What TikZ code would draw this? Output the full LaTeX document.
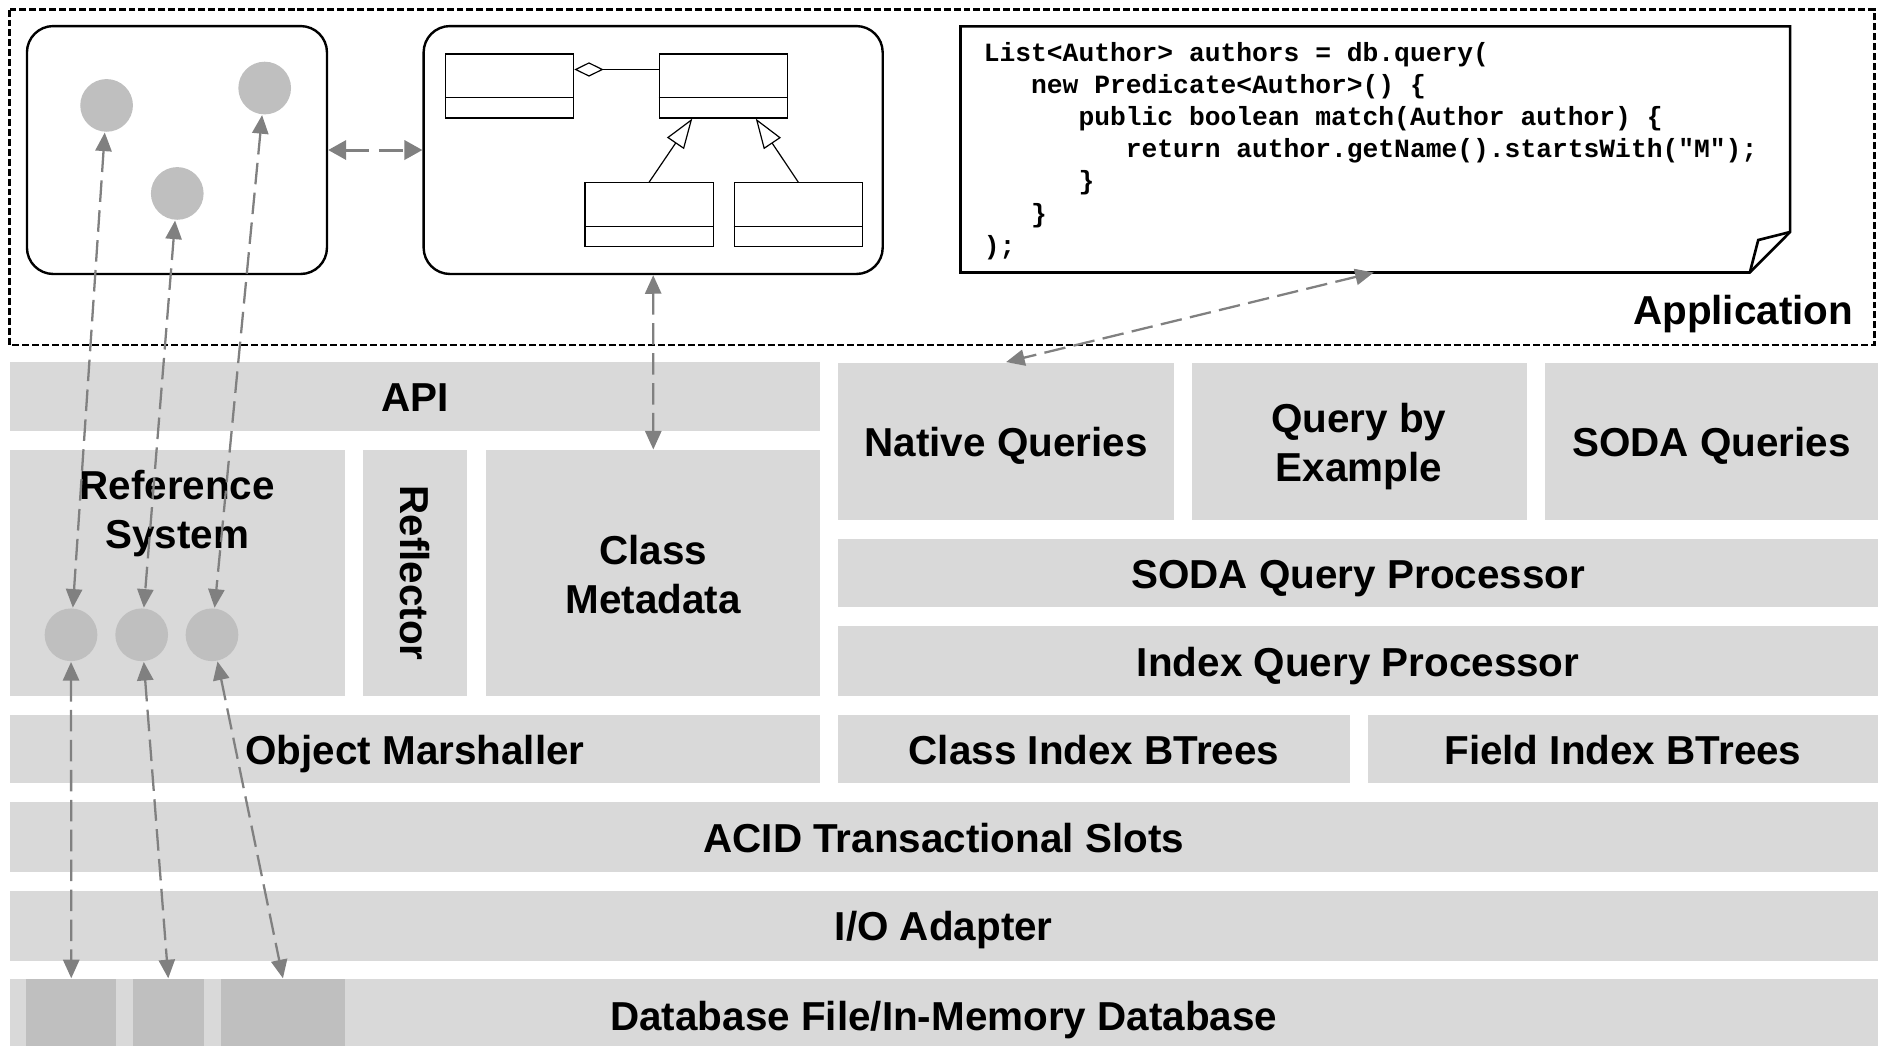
\documentclass[tikz,border=0pt]{standalone}
\usepackage{fontspec}
\setmainfont{Liberation Sans}
\newfontfamily\codeFont{Liberation Mono}
\usetikzlibrary{positioning, arrows.meta}
\definecolor{layerGray}{HTML}{D9D9D9}
\definecolor{objectGray}{HTML}{BFBFBF}
\definecolor{arrowGray}{HTML}{808080}
\tikzstyle{stackLayout} = [x = 0.1mm, y = -0.1mm]
\tikzstyle{layerStyle} = [fill=layerGray, inner sep=0pt, text height=2.6mm, text depth=0.1mm, font=\fontsize{9.6}{11.7}\selectfont\bfseries]
\tikzstyle{layerText} = [inner sep=0pt, text height=2.6mm, text depth=0.1mm, font=\fontsize{9.6}{11.7}\selectfont\bfseries]
\tikzstyle{multiText} = [inner sep=0pt, align=center, font=\fontsize{9.6}{11.7}\selectfont\bfseries]
\tikzstyle{blockStyle} = [fill=objectGray, inner sep=0pt]
\tikzstyle{objectStyle} = [circle, fill=objectGray, minimum size=4.4mm, inner sep=0pt]
\tikzstyle{roundBox} = [draw, line width=0.2mm, rounded corners=2.2mm, inner sep=0pt]
\tikzstyle{appBorder} = [line width=0.19mm, dash pattern=on 0.58mm off 0.25mm]
\tikzstyle{noteLine} = [line width=0.22mm, line join=miter]
\tikzstyle{umlLine} = [line width=0.1mm]
\tikzstyle{codeText} = [anchor=base west, inner sep=0pt, font=\fontsize{6.25}{7.6}\selectfont\codeFont\bfseries]
\tikzstyle{linkArrow} = [draw=arrowGray, line width=0.19mm, dash pattern=on 1.8mm off 0.7mm, {Triangle[length=1.55mm, width=1.35mm]}-{Triangle[length=1.55mm, width=1.35mm]}]
\tikzstyle{boldLinkArrow} = [linkArrow, line width=0.25mm, dash pattern=on 2mm off 0.8mm, {Triangle[length=1.5mm, width=1.6mm]}-{Triangle[length=1.5mm, width=1.6mm]}]
\newcommand{\layerBox}[6]{
  \pgfmathsetmacro{\boxWidth}{(#4 - #2) * 0.1}
  \pgfmathsetmacro{\boxHeight}{(#5 - #3) * 0.1}
  \node [layerStyle, minimum width=\boxWidth mm, minimum height=\boxHeight mm] (#1) at ({(#2 + #4) / 2}, {(#3 + #5) / 2}) {#6};
}
\newcommand{\blockBox}[5]{
  \pgfmathsetmacro{\boxWidth}{(#4 - #2) * 0.1}
  \pgfmathsetmacro{\boxHeight}{(#5 - #3) * 0.1}
  \node [blockStyle, minimum width=\boxWidth mm, minimum height=\boxHeight mm] (#1) at ({(#2 + #4) / 2}, {(#3 + #5) / 2}) {};
}
\newcommand{\umlClass}[3]{
  \node [draw, umlLine, minimum width=10.7mm, minimum height=5.35mm, inner sep=0pt] (#1) at (#2, #3) {};
  \draw [umlLine] ([yshift=1.75mm]#1.south west) -- ([yshift=1.75mm]#1.south east);
}

\begin{document}
\begin{tikzpicture}[stackLayout]
              \useasboundingbox (0,0) rectangle (1568,873);

              \layerBox{api}{8}{302}{685}{360}{API}
              \layerBox{nativeQ}{700}{303}{980}{434}{Native Queries}
              \layerBox{qbe}{995}{303}{1275}{434}{}
              \layerBox{sodaQ}{1290}{303}{1568}{434}{SODA Queries}
              \layerBox{refSystem}{8}{376}{288}{581}{}
              \layerBox{reflector}{303}{376}{390}{581}{}
              \layerBox{classMeta}{406}{376}{685}{581}{}
              \layerBox{sodaProc}{700}{450}{1568}{507}{SODA Query Processor}
              \layerBox{indexProc}{700}{523}{1568}{581}{Index Query Processor}
              \layerBox{marshaller}{8}{597}{685}{654}{Object Marshaller}
              \layerBox{classIdx}{700}{597}{1127}{654}{Class Index BTrees}
              \layerBox{fieldIdx}{1142}{597}{1568}{654}{Field Index BTrees}
              \layerBox{slots}{8}{670}{1568}{728}{ACID Transactional Slots}
              \layerBox{ioAdapter}{8}{744}{1568}{802}{I/O Adapter}
              \layerBox{database}{8}{817.5}{1568}{873}{}
              \blockBox{dbA}{22}{817.5}{97}{873}
              \blockBox{dbB}{111}{817.5}{170}{873}
              \blockBox{dbC}{184.5}{817.5}{288}{873}
              \node [layerText] (databaseText) at (788,848) {Database File/In-Memory Database};
              \node [multiText] (qbeText) at (1134.5,373) {Query by\\Example};
              \node [multiText] (classMetaText) at (545.5,480) {Class\\Metadata};
              \node [multiText] (refText) at (148,429) {Reference\\System};
              \node [multiText, rotate=-90] (reflectorText) at (reflector) {Reflector};

              \node [objectStyle] (refA) at (59.3,530) {};
              \node [objectStyle] (refB) at (118.3,530) {};
              \node [objectStyle] (refC) at (177,530) {};

              \draw [appBorder] (8,8) rectangle (1565,288);
              \node [multiText, anchor=base east] (appLabel) at (1548,271) {Application};

              \node [roundBox, minimum width=25.05mm, minimum height=20.7mm] (objectBox) at (147.75,125.25) {};
              \node [objectStyle] (objA) at (89,88) {};
              \node [objectStyle] (objB) at (221,73.5) {};
              \node [objectStyle] (objC) at (148,161.5) {};

              \node [roundBox, minimum width=38.33mm, minimum height=20.7mm] (classBox) at (545.35,125.25) {};
              \umlClass{clsA}{425.5}{71.75}
              \umlClass{clsB}{604}{71.75}
              \umlClass{clsC}{542}{179.3}
              \umlClass{clsD}{666.5}{179.3}
              \draw [umlLine, {Diamond[open, length=2.45mm, width=1.2mm]}-] ([yshift=-1.35mm]clsA.north east) -- ([yshift=-1.35mm]clsB.north west);
              \draw [umlLine, -{Triangle[open, length=2.5mm, width=1.7mm]}] (clsC.north) -- ([xshift=-2.6mm]clsB.south);
              \draw [umlLine, -{Triangle[open, length=2.5mm, width=1.7mm]}] (clsD.north) -- ([xshift=2.7mm]clsB.south);

              \draw [noteLine] (802,22) -- (1494.6,22) -- (1494.6,193.7) -- (1461,227.5) -- (802,227.5) -- cycle;
              \draw [noteLine] (1494.6,193.7) -- (1468,200.4) -- (1461,227.5);
              \coordinate (noteAnchor) at (1147,227.5);
              \foreach \codeLine [count=\row from 0] in {{List<Author> authors = db.query(}, {~~~new Predicate<Author>() \{}, {~~~~~~public boolean match(Author author) \{}, {~~~~~~~~~return author.getName().startsWith("M");}, {~~~~~~\}}, {~~~\}}, {);}} {
                \node [codeText] (code\row) at (820.7, {51 + 26.9 * \row}) {\codeLine};
              }

              \draw [boldLinkArrow] (objectBox) -- (classBox);
              \draw [linkArrow] (objA) -- (refA);
              \draw [linkArrow] (objC) -- (refB);
              \draw [linkArrow] (objB) -- (refC);
              \draw [linkArrow] (refA) -- (dbA.north);
              \draw [linkArrow] (refB) -- (dbB.north);
              \draw [linkArrow] (refC) -- (dbC.north);
              \draw [linkArrow] (classBox) -- (classMeta);
              \draw [linkArrow] (noteAnchor) -- (nativeQ.north);
            \end{tikzpicture}
\end{document}
